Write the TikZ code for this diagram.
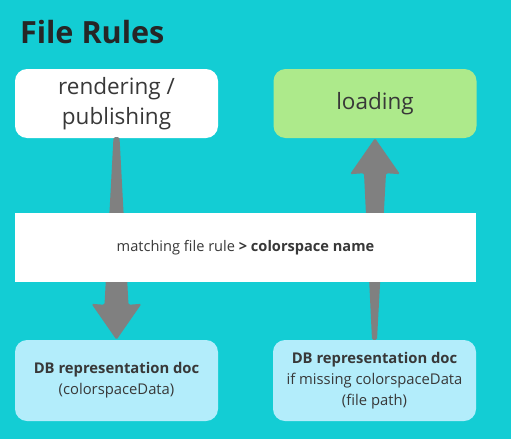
\documentclass[tikz,border=0pt]{standalone}
\usepackage{fontspec}
\setmainfont{Open Sans}
\usepackage{tikz}
\usetikzlibrary{calc}
\definecolor{bgteal}{HTML}{13CDD4}
\definecolor{loadgreen}{HTML}{ADEA8B}
\definecolor{docblue}{HTML}{B3EDFB}
\definecolor{arrowgray}{HTML}{808080}
\definecolor{textgray}{HTML}{383838}
\tikzset{
    stage-box/.style = {rectangle, rounded corners=12pt, minimum width=203pt, minimum height=69pt, inner sep=2pt, align=center, text=textgray, font=\fontsize{22.5}{30}\selectfont},
    doc-box/.style = {stage-box, fill=docblue, minimum height=81pt, font=\fontsize{14.8}{21}\selectfont},
    rule-box/.style = {rectangle, fill=white, minimum width=461pt, minimum height=69pt, text=textgray, font=\fontsize{14.6}{17}\selectfont},
    fat-arrow/.style = {fill=arrowgray, rounded corners=1.5pt},
}

\begin{document}
\begin{tikzpicture}[x=1pt, y=-1pt]
\fill[bgteal] (0,0) rectangle (511,439);
\useasboundingbox (0,0) rectangle (511,439);
\node[anchor=west, text=black!85, font=\bfseries\fontsize{30.6}{36}\selectfont] (title) at (16.5,32) {File Rules};
\node[stage-box, fill=white] (render) at (116.5,103.5) {rendering /\\publishing};
\node[stage-box, fill=loadgreen] (load) at (375,103.5) {loading};
\node[doc-box] (dbleft) at (116.5,380.5) {\textbf{DB representation doc}\\(colorspaceData)};
\node[doc-box] (dbright) at (374.5,380.5) {\textbf{DB representation doc}\\if missing colorspaceData\\(file path)};
% arrows, behind the rule box
\fill[fat-arrow] ($(render.south)+(-3,-1)$) -- ($(render.south)+(3,-1)$)
    -- ($(dbleft.north)+(12,-35)$) -- ($(dbleft.north)+(25,-36)$) -- (dbleft.north)
    -- ($(dbleft.north)+(-25,-36)$) -- ($(dbleft.north)+(-12,-35)$) -- cycle;
\fill[fat-arrow] ($(dbright.north)+(-2.5,0)$) -- ($(dbright.north)+(2.5,0)$)
    -- ($(load.south)+(11,35)$) -- ($(load.south)+(25,36)$) -- (load.south)
    -- ($(load.south)+(-25,36)$) -- ($(load.south)+(-11,35)$) -- cycle;
\node[rule-box] (rule) at (245.5,247.5) {matching file rule \textbf{> colorspace name}};
\end{tikzpicture}
\end{document}
